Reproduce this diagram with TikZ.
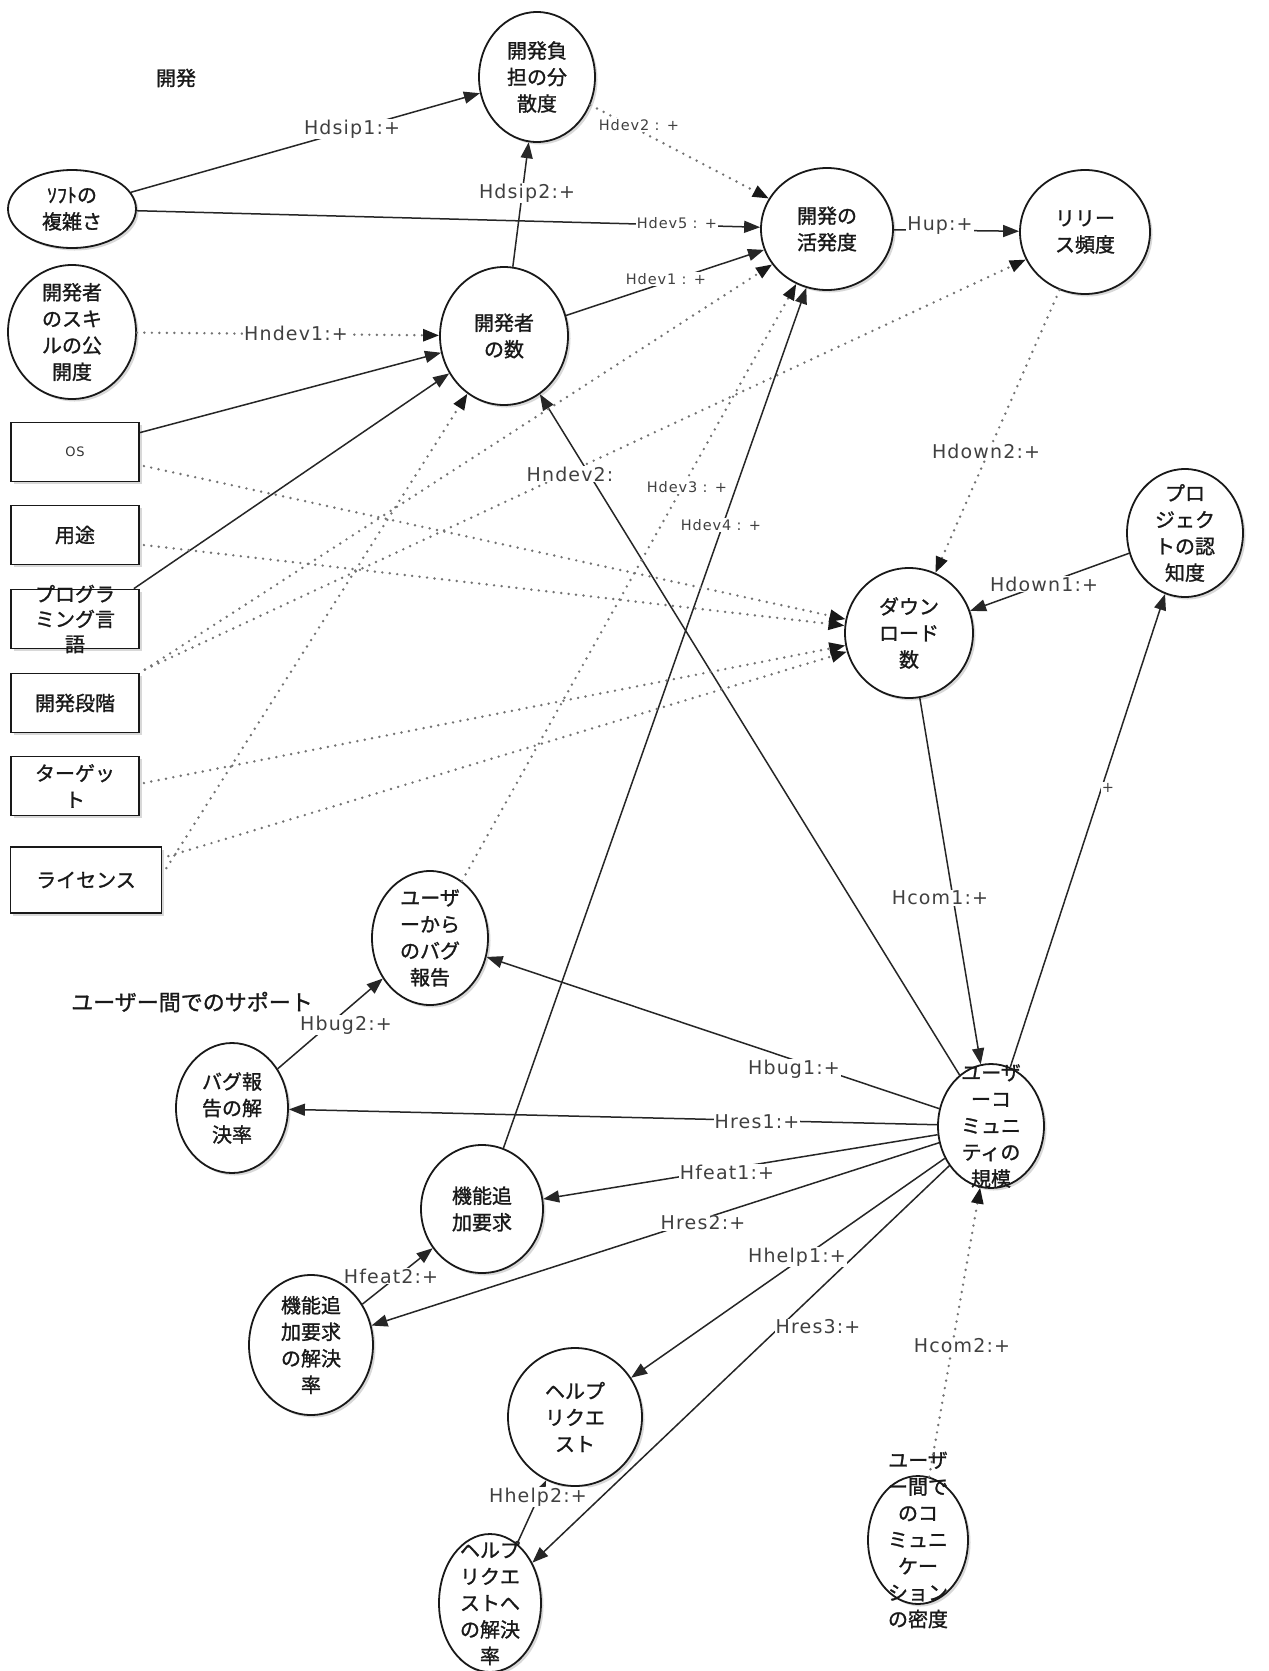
\documentclass[tikz,border=0pt]{standalone}
\usepackage{fontspec}
\newfontfamily\jpfont[FakeBold=1.2]{Noto Sans CJK JP}
\newfontfamily\labfont[LetterSpace=6]{DejaVu Sans}
\usetikzlibrary{shapes.geometric,arrows.meta,shadows,calc}
\begin{document}
\begin{tikzpicture}[x=1pt,y=-1pt,
 shd/.style={drop shadow={opacity=0.3,shadow xshift=2.5pt,shadow yshift=-2.5pt}},
 ell/.style={ellipse,draw=black!90,line width=1.8pt,fill=white,inner sep=0pt,shd},
 box/.style={rectangle,draw=black!90,line width=1.8pt,fill=white,inner sep=0pt,minimum width=128,minimum height=59,shd},
 jt/.style={font=\jpfont\fontsize{20}{26.5}\selectfont,align=center,text=black!90},
 lb/.style={font=\labfont\fontsize{19}{22}\selectfont,text=black!75,fill=white,inner sep=1pt},
 sl/.style={font=\labfont\fontsize{14.5}{17}\selectfont,text=black!75,fill=white,inner sep=1pt},
 sol/.style={line width=1.5pt,draw=black!85,-{Triangle[length=16pt,width=12pt]}},
 dot/.style={line width=2.7pt,line cap=round,dash pattern=on 0pt off 7.5pt,draw=black!55,-{Triangle[length=16pt,width=12pt,color=black!90]}},
]
\fill[white] (0,0) rectangle (1269,1671);
\useasboundingbox (0,0) rectangle (1269,1671);

% free texts
\node[jt] (t1) at (176,78) {開発};
\node[jt,font=\jpfont\fontsize{22}{26}\selectfont] (t2) at (192,1002) {ユーザー間でのサポート};

% ellipses
\node[ell,minimum width=116,minimum height=130,label={[jt]center:開発負\\担の分\\散度}] (disp) at (537,77) {};
\node[ell,minimum width=128,minimum height=78,label={[jt]center:ｿﾌﾄの\\複雑さ}] (soft) at (72,209) {};
\node[ell,minimum width=128,minimum height=134,label={[jt]center:開発者\\のスキ\\ルの公\\開度}] (skill) at (72,332) {};
\node[ell,minimum width=128,minimum height=138,label={[jt]center:開発者\\の数}] (ndev) at (504,336) {};
\node[ell,minimum width=132,minimum height=122,label={[jt]center:開発の\\活発度}] (act) at (827,229) {};
\node[ell,minimum width=130,minimum height=124,label={[jt]center:リリー\\ス頻度}] (rel) at (1085,232) {};
\node[ell,minimum width=128,minimum height=130,label={[jt]center:ダウン\\ロード\\数}] (dl) at (909,633) {};
\node[ell,minimum width=116,minimum height=128,label={[jt]center:プロ\\ジェク\\トの認\\知度}] (aware) at (1185,533) {};
\node[ell,minimum width=116,minimum height=134,label={[jt]center:ユーザ\\ーから\\のバグ\\報告}] (bug) at (430,938) {};
\node[ell,minimum width=112,minimum height=130,label={[jt]center:バグ報\\告の解\\決率}] (bugres) at (232,1108) {};
\node[ell,minimum width=106,minimum height=124,label={[jt]center:ユーザ\\ーコ\\ミュニ\\ティの\\規模}] (comm) at (991,1126) {};
\node[ell,minimum width=122,minimum height=128,label={[jt]center:機能追\\加要求}] (feat) at (482,1209) {};
\node[ell,minimum width=124,minimum height=140,label={[jt]center:機能追\\加要求\\の解決\\率}] (featres) at (311,1345) {};
\node[ell,minimum width=134,minimum height=138,label={[jt]center:ヘルプ\\リクエ\\スト}] (help) at (575,1417) {};
\node[ell,minimum width=102,minimum height=138,label={[jt]center:ヘルプ\\リクエ\\ストへ\\の解決\\率}] (helpres) at (490,1603) {};
\node[ell,minimum width=100,minimum height=128,label={[jt]center:ユーザ\\ー間で\\のコ\\ミュニ\\ケー\\ション\\の密度}] (dens) at (918,1540) {};

% boxes
\node[box,label={[font=\labfont\fontsize{13}{15}\selectfont,text=black!80]center:OS}] (os) at (75,452) {};
\node[box,label={[jt]center:用途}] (use) at (75,535) {};
\node[box,label={[jt,font=\jpfont\fontsize{20}{25}\selectfont]center:プログラ\\ミング言\\語}] (lang) at (75,619) {};
\node[box,label={[jt]center:開発段階}] (stage) at (75,703) {};
\node[box,label={[jt]center:ターゲッ\\ト}] (target) at (75,786) {};
\node[box,minimum width=151,minimum height=66,label={[jt]center:ライセンス}] (lic) at (86,880) {};

% connectors
\draw[sol] (soft) -- (disp);
\draw[sol] (ndev) -- (disp);
\draw[dot] (disp) -- (act);
\draw[sol] (soft) -- (act);
\draw[sol] (ndev) -- (act);
\draw[sol] (act) -- (rel);
\draw[dot] (skill) -- (ndev);
\draw[sol] ($(os.north east)+(0,11)$) -- (ndev);
\draw[sol] ($(lang.north east)+(-6,0)$) -- (ndev);
\draw[dot] ($(lic.north east)+(4,22)$) -- (ndev);
\draw[sol] (comm) -- (ndev);
\draw[dot] ($(stage.north east)+(5,-3)$) -- (act);
\draw[dot] ($(stage.north east)+(5,-3)$) -- (rel);
\draw[dot] (bug) -- (act);
\draw[sol] (feat) -- (act);
\draw[dot] (rel) -- (dl);
\draw[sol] (aware) -- (dl);
\draw[dot] ($(os.east)+(4,14)$) -- (dl);
\draw[dot] ($(use.east)+(4,10)$) -- (dl);
\draw[dot] ($(target.east)+(4,-3)$) -- (dl);
\draw[dot] ($(lic.north east)+(6,10)$) -- (dl);
\draw[sol] (dl) -- (comm);
\draw[sol] (comm) -- (aware);
\draw[sol] (comm) -- (bug);
\draw[sol] (comm) -- (bugres);
\draw[sol] (comm) -- (feat);
\draw[sol] (comm) -- (featres);
\draw[sol] (comm) -- (help);
\draw[sol] (comm) -- (helpres);
\draw[dot] (dens) -- (comm);
\draw[sol] (bugres) -- (bug);
\draw[sol] (featres) -- (feat);
\draw[sol] (helpres) -- (help);

% connector labels
\node[lb] (l1) at (352,129) {Hdsip1:+};
\node[lb] (l2) at (527,193) {Hdsip2:+};
\node[sl] (l3) at (639,125) {Hdev2 : +};
\node[sl] (l4) at (677,223) {Hdev5 : +};
\node[sl] (l5) at (666,279) {Hdev1 : +};
\node[lb] (l6) at (940,226) {Hup:+};
\node[lb] (l7) at (296,333) {Hndev1:+};
\node[lb] (l8) at (570,474) {Hndev2:};
\node[sl] (l9) at (687,487) {Hdev3 : +};
\node[sl] (l10) at (721,525) {Hdev4 : +};
\node[lb] (l11) at (986,451) {Hdown2:+};
\node[lb] (l12) at (1044,584) {Hdown1:+};
\node[sl] (l13) at (1108,788) {+};
\node[lb] (l14) at (940,898) {Hcom1:+};
\node[lb] (l15) at (346,1025) {Hbug2:+};
\node[lb] (l16) at (794,1069) {Hbug1:+};
\node[lb] (l17) at (757,1122) {Hres1:+};
\node[lb] (l18) at (727,1172) {Hfeat1:+};
\node[lb] (l19) at (703,1223) {Hres2:+};
\node[lb] (l20) at (797,1257) {Hhelp1:+};
\node[lb] (l21) at (818,1327) {Hres3:+};
\node[lb] (l22) at (962,1346) {Hcom2:+};
\node[lb] (l23) at (391,1276) {Hfeat2:+};
\node[lb] (l24) at (538,1497) {Hhelp2:+};
\end{tikzpicture}
\end{document}
